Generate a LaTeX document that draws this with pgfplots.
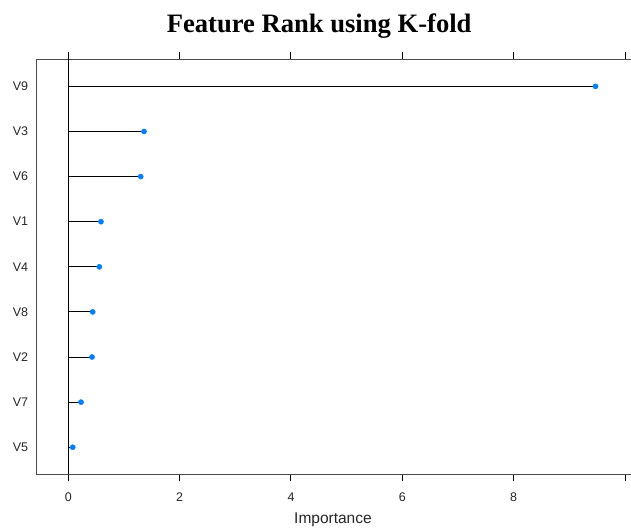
\documentclass[border=0pt]{standalone}
\usepackage{fontspec}
\setmainfont{Liberation Sans}
\newfontfamily\titlefont{Liberation Serif}
\usepackage{pgfplots}
\pgfplotsset{compat=1.18}
\definecolor{dotblue}{HTML}{0080FF}
\begin{document}
\begin{tikzpicture}
\useasboundingbox (-36.7pt,-52.7pt) rectangle (594.3pt,474.3pt);
\clip (-36.7pt,-52.7pt) rectangle (594.3pt,474.3pt);
\begin{axis}[
  at={(0,0)}, anchor=south west,
  scale only axis, width=596.1pt, height=415pt,
  xmin=-0.568, xmax=10.14, ymin=0.4, ymax=9.6,
  xtick={0,2,4,6,8,10}, xticklabels={0,2,4,6,8,{}},
  xtick pos=both, tick align=outside,
  major tick length=7pt,
  ytick={1,...,9}, yticklabels={V5,V7,V2,V8,V4,V1,V6,V3,V9},
  ytick style={draw=none},
  xtick style={black, line width=1pt},
  axis line style={black!70, line width=1pt},
  /pgf/number format/assume math mode=true,
  xticklabel style={font=\fontsize{12.5}{14}\selectfont, anchor=base, yshift=-19.7pt, color=black!85},
  yticklabel style={font=\fontsize{12.5}{14}\selectfont, anchor=east, inner sep=0pt, xshift=-1.4pt, color=black!85},
  xlabel={Importance},
  xlabel style={font=\fontsize{15.5}{18}\selectfont, at={(rel axis cs:0.497,0)}, anchor=base, yshift=-48.8pt, color=black!85},
  clip=false,
]
\addplot[black, line width=1pt, forget plot] coordinates {(0,0.4) (0,9.6)};
\addplot[xcomb, black, line width=1pt] coordinates {
(9.47,9) (1.36,8) (1.30,7) (0.587,6) (0.557,5) (0.438,4) (0.426,3) (0.228,2) (0.079,1)};
\addplot[only marks, mark=*, dotblue, mark size=2.6pt] coordinates {
(9.47,9) (1.36,8) (1.30,7) (0.587,6) (0.557,5) (0.438,4) (0.426,3) (0.228,2) (0.079,1)};
\end{axis}
\node[font=\titlefont\bfseries\fontsize{26.6}{30}\selectfont, anchor=base] at (282.5pt,441.5pt) {Feature Rank using K-fold};
\end{tikzpicture}
\end{document}
